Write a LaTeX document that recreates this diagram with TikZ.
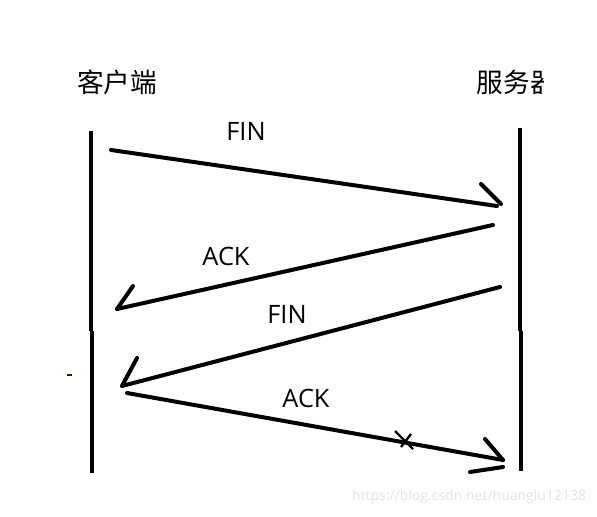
\documentclass[tikz,border=0pt]{standalone}
\usepackage{fontspec}
\setmainfont{Open Sans}
\newfontfamily\cjkfont{Noto Sans CJK SC}

\tikzset{every picture/.style={line width=0.75pt}}
\tikzset{
  lifeline/.style={line width=3.6pt},
  pen/.style={line width=3pt, line cap=round},
  msg/.style={font=\fontsize{19pt}{22pt}\selectfont},
  party/.style={font=\cjkfont\fontsize{20pt}{24pt}\selectfont},
}

\begin{document}
\begin{tikzpicture}[x=0.75pt,y=0.75pt,yscale=-1,xscale=1]
	\useasboundingbox (0,0) rectangle (597,517);

	% Text Node
	\node [party] (client) at (117,82) {客户端};
	% Text Node (cut off at the right edge)
	\begin{scope}
	\clip (440,50) rectangle (543,115);
	\node [party, anchor=west] (server) at (472,82) {服务器};
	\end{scope}

	%Straight Lines: lifelines
	\coordinate (cltop) at (91,131);
	\coordinate (clmid) at (91,331);
	\coordinate (clmidb) at (92,331);
	\coordinate (clbot) at (92,473);
	\coordinate (svtop) at (520,128);
	\coordinate (svmid) at (520,331);
	\coordinate (svmidb) at (521,331);
	\coordinate (svbot) at (521,471);
	\draw [lifeline] (cltop) -- (clmid);
	\draw [lifeline] (clmidb) -- (clbot);
	\draw [lifeline] (svtop) -- (svmid);
	\draw [lifeline] (svmidb) -- (svbot);

	%Straight Lines: FIN
	\coordinate (finAs) at (111,150);
	\coordinate (finAe) at (497,206);
	\coordinate (finAb) at (481,184);
	\coordinate (finAt) at (501,204);
	\draw [pen] (finAs) -- (finAe);
	\draw [pen] (finAb) -- (finAt);

	%Straight Lines: ACK
	\coordinate (ackAs) at (493,225);
	\coordinate (ackAe) at (117,309);
	\coordinate (ackAb) at (133,286);
	\draw [pen] (ackAs) -- (ackAe);
	\draw [pen] (ackAb) -- (ackAe);

	%Straight Lines: FIN
	\coordinate (finBs) at (500,287);
	\coordinate (finBe) at (122,386);
	\coordinate (finBb) at (137,358);
	\draw [pen] (finBs) -- (finBe);
	\draw [pen] (finBb) -- (finBe);

	%Straight Lines: ACK
	\coordinate (ackBs) at (127,393);
	\coordinate (ackBe) at (503,460);
	\coordinate (ackBb) at (485,439);
	\coordinate (ackBl) at (470,472);
	\coordinate (ackBr) at (503,467);
	\draw [pen] (ackBs) -- (ackBe);
	\draw [pen] (ackBb) -- (ackBe);
	\draw [pen] (ackBl) -- (ackBr);

	% small scribbles
	\coordinate (scrA) at (395,431);
	\coordinate (scrB) at (413,449);
	\coordinate (scrC) at (411,434);
	\coordinate (scrD) at (401,447);
	\draw [line width=1.8pt] (scrA) -- (scrB);
	\draw [line width=1.8pt] (scrC) -- (scrD);
	\coordinate (dashL) at (67,375);
	\coordinate (dashR) at (72,375);
	\draw [line width=1.5pt, color={rgb, 255:red, 20; green, 30; blue, 80 }] (dashL) -- (dashR);

	% Text Node
	\node [msg] (finA) at (246,131) {FIN};
	% Text Node
	\node [msg] (ackA) at (226,256) {ACK};
	% Text Node
	\node [msg] (finB) at (287,314) {FIN};
	% Text Node
	\node [msg] (ackB) at (306,398) {ACK};

	% Text Node: watermark
	\node [anchor=east, text=black!11, font=\fontsize{10.5pt}{12pt}\selectfont] (mark) at (591,497) {https://blog.csdn.net/huanglu12138};

\end{tikzpicture}
\end{document}
